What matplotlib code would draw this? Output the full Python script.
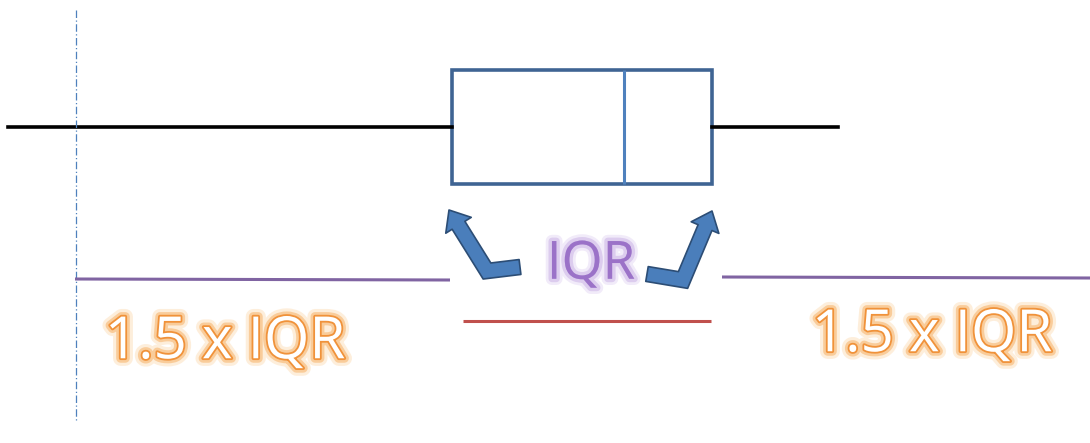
import numpy as np
import matplotlib.pyplot as plt
from matplotlib import patheffects as pe
from matplotlib.patches import Polygon

plt.rcParams.update({
    "figure.facecolor": "white",
    "axes.facecolor": "white",
    "font.family": ["Open Sans", "DejaVu Sans"],
})

# box plot summary (drawn in a pixel-like scale)
whisker_low = 8
q1 = 452
median = 624
q3 = 712
whisker_high = 838

# fence segments (1.5 x IQR on each side) and the IQR span
fence_left = [75, 450]
fence_right = [722, 1090]
iqr_span = [463, 711]

labels = ["1.5 x IQR", "IQR", "1.5 x IQR"]


def bent_arrow(tail, corner, tip, w=15, hw=30, hl=18):
    tail, corner, tip = (np.array(p, float) for p in (tail, corner, tip))
    d1 = (corner - tail) / np.linalg.norm(corner - tail)
    d2 = (tip - corner) / np.linalg.norm(tip - corner)
    n1 = np.array([-d1[1], d1[0]])
    n2 = np.array([-d2[1], d2[0]])
    m = (n1 + n2) / np.linalg.norm(n1 + n2)
    miter = m * (w / 2) / np.dot(m, n1)
    base = tip - d2 * hl
    pts = [tail + n1 * w / 2, corner + miter, base + n2 * w / 2,
           base + n2 * hw / 2, tip, base - n2 * hw / 2, base - n2 * w / 2,
           corner - miter, tail - n1 * w / 2]
    return Polygon(pts, closed=True, facecolor="#4a7ebb", edgecolor="#2c4d75",
                   linewidth=1.2, joinstyle="round")


fig = plt.figure(figsize=(10.9, 4.43), dpi=100)
ax = fig.add_axes([0, 0, 1, 1])

stats = [{"med": median, "q1": q1, "q3": q3,
          "whislo": whisker_low, "whishi": whisker_high, "fliers": []}]
ax.bxp(stats, positions=[127], widths=114, vert=False, showcaps=False,
       showfliers=False, patch_artist=True,
       boxprops=dict(facecolor="white", edgecolor="#3f6493", linewidth=2.6),
       whiskerprops=dict(color="black", linewidth=2.6),
       medianprops=dict(color="#4f81bd", linewidth=2.2))

# dashed reference line at the lower fence
ax.plot([76, 76], [10, 420], color="#4f81bd", lw=0.9, ls=(0, (6, 2, 1, 2)))

# fence lines and IQR line
ax.plot(fence_left, [279, 280], color="#8064a2", lw=2.2, solid_capstyle="butt")
ax.plot(fence_right, [277, 278], color="#8064a2", lw=2.2, solid_capstyle="butt")
ax.plot(iqr_span, [321, 321], color="#c0504d", lw=2.2, solid_capstyle="butt")

# bent arrows pointing at the box edges
ax.add_patch(bent_arrow((520, 267), (487, 271), (449, 210)))
ax.add_patch(bent_arrow((647, 274), (683, 280), (712, 211)))

ax.text(591, 265, labels[1], ha="center", va="center", fontsize=38,
        color="#9b72c8",
        path_effects=[pe.Stroke(linewidth=9, foreground="#d9c6ee", alpha=0.35),
                      pe.Stroke(linewidth=5, foreground="#c3a8e2", alpha=0.45),
                      pe.Normal()])

orange = [pe.Stroke(linewidth=11, foreground="#fde3c4", alpha=0.6),
          pe.Stroke(linewidth=6.5, foreground="#f9c48a", alpha=0.8),
          pe.Stroke(linewidth=2.6, foreground="#f0923a"),
          pe.Normal()]
ax.text(225, 343, labels[0], ha="center", va="center", fontsize=42,
        color="white", path_effects=orange)
ax.text(932, 336, labels[2], ha="center", va="center", fontsize=42,
        color="white", path_effects=orange)

ax.set_xlim(0, 1090)
ax.set_ylim(443, 0)
ax.axis("off")

fig.savefig("out.png", dpi=100, facecolor="white")
plt.close(fig)
